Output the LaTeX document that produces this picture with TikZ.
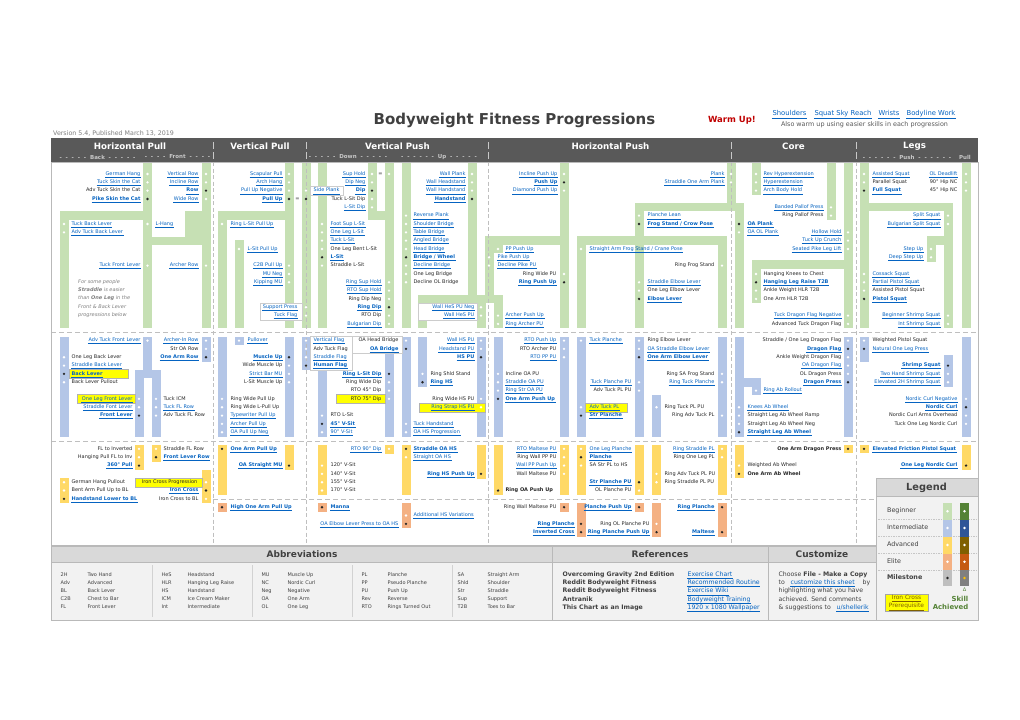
\documentclass[tikz,border=0pt]{standalone}
\usepackage{fontspec}
\setmainfont{DejaVu Sans}
\definecolor{hdr}{HTML}{595959}
\definecolor{ttl}{HTML}{404040}
\definecolor{grn}{HTML}{C6E0B4}
\definecolor{blu}{HTML}{B4C6E7}
\definecolor{yel}{HTML}{FFD966}
\definecolor{org}{HTML}{F4B183}
\definecolor{lnk}{HTML}{0563C1}
\definecolor{txtc}{HTML}{262626}
\definecolor{gry}{HTML}{595959}
\definecolor{notec}{HTML}{7F7F7F}
\definecolor{sepc}{HTML}{BFBFBF}
\definecolor{subc}{HTML}{C8C8C8}
\definecolor{bar}{HTML}{D9D9D9}
\definecolor{pnl}{HTML}{F2F2F2}
\definecolor{hly}{HTML}{FFFF00}
\definecolor{dotk}{HTML}{262626}
\definecolor{warm}{HTML}{C00000}
\definecolor{dkgrn}{HTML}{548235}
\definecolor{dkblu}{HTML}{2F5597}
\definecolor{dkyel}{HTML}{7F6000}
\definecolor{dkorg}{HTML}{C55A11}
\definecolor{mgry}{HTML}{BFBFBF}
\definecolor{dgry}{HTML}{808080}
\definecolor{gold}{HTML}{FFC000}
\newcounter{itm}
\def\ir#1#2#3#4{\stepcounter{itm}\node[#3, anchor=east] (i\arabic{itm}) at (#2,{174+8.33*#1}) {#4};}
\def\il#1#2#3#4{\stepcounter{itm}\node[#3, anchor=west] (i\arabic{itm}) at (#2,{174+8.33*#1}) {#4};}
\def\dw#1#2{\fill[white] (#2,{174+8.33*#1}) circle (1.3);}
\def\dk#1#2{\fill[dotk] (#2,{174+8.33*#1}) circle (1.3);}
\def\lane#1#2#3#4{\fill[#1] (#2,#3) rectangle ({#2+8.5},#4);}

\begin{document}
\begin{tikzpicture}[x=1pt,y=-1pt,
  itx/.style={font=\fontsize{5}{6}\selectfont, text=txtc, inner sep=0.4pt, text height=3.7pt, text depth=1.1pt},
  lk/.style={itx, text=lnk, append after command={(\tikzlastnode.south west) edge[draw=lnk, line width=0.3pt] (\tikzlastnode.south east)}},
  bk/.style={lk, font=\fontsize{5}{6}\selectfont\bfseries},
  pb/.style={itx, font=\fontsize{5}{6}\selectfont\bfseries},
  toplk/.style={lk, font=\fontsize{6.8}{8}\selectfont, text height=5pt, text depth=1.5pt},
  sec/.style={font=\fontsize{8.7}{10}\selectfont\bfseries, text=white},
  sub/.style={font=\fontsize{5.5}{6}\selectfont\bfseries, text=subc},
  hlbox/.style={fill=hly, draw=gray!60, line width=0.4pt},
  grpbox/.style={fill=white, draw=gray!40, line width=0.4pt},
  vsep/.style={draw=sepc, line width=0.8pt, dash pattern=on 4pt off 2.5pt},
  hsepl/.style={draw=sepc, line width=0.8pt, dash pattern=on 5pt off 3pt},
  abr/.style={font=\fontsize{5}{6}\selectfont, text=ttl, inner sep=0.4pt, text height=3.7pt, text depth=1.1pt, anchor=west},
  cus/.style={abr, font=\fontsize{6.2}{7}\selectfont, text height=4.5pt, text depth=1.3pt},
  refb/.style={cus, font=\fontsize{6.2}{7}\selectfont\bfseries},
  reflk/.style={lk, font=\fontsize{6.2}{7}\selectfont, text height=4.5pt, text depth=1.3pt, anchor=west},
  lgl/.style={abr, font=\fontsize{6.4}{7}\selectfont, text height=4.6pt, text depth=1.3pt},
  bhead/.style={font=\fontsize{9}{10}\selectfont\bfseries, text=ttl}]
\useasboundingbox (0,0) rectangle (1020,720);
\fill[white] (0,0) rectangle (1020,720);

%%%%% HEADER %%%%%
\node[font=\fontsize{15}{17}\selectfont\bfseries, text=ttl] (title) at (514.5,120) {Bodyweight Fitness Progressions};
\node[font=\fontsize{8.5}{10}\selectfont\bfseries, text=warm] (warm) at (732,120) {Warm Up!};
\node[toplk] (wu1) at (789.5,114) {Shoulders};
\node[toplk] (wu2) at (843,114) {Squat Sky Reach};
\node[toplk] (wu3) at (889,114) {Wrists};
\node[toplk] (wu4) at (931,114) {Bodyline Work};
\node[font=\fontsize{6.4}{7}\selectfont, text=gry] (also) at (864.5,124.5) {Also warm up using easier skills in each progression};
\node[font=\fontsize{6.3}{7}\selectfont, text=notec, anchor=west, inner sep=0pt] (ver) at (53,133) {Version 5.4, Published March 13, 2019};

\fill[hdr] (51,138) rectangle (978,162);
\node[sec] (s1) at (130,146.5) {Horizontal Pull};
\node[sec] (s2) at (260,146.5) {Vertical Pull};
\node[sec] (s3) at (397.5,146.5) {Vertical Push};
\node[sec] (s4) at (610.5,146.5) {Horizontal Push};
\node[sec] (s5) at (793.5,146.5) {Core};
\node[sec] (s6) at (914.5,146.5) {Legs};
\node[sub] (b1) at (97.5,157) {-~~-~~-~~-~~-~~Back~~-~~-~~-~~-~~-};
\node[sub] (b2) at (177.5,157) {-~~-~~-~~-~~Front~~-~~-~~-~~-};
\node[sub] (b3) at (348,157) {-~~-~~-~~-~~-~~Down~~-~~-~~-~~-~~-};
\node[sub] (b4) at (439,157) {-~~-~~-~~-~~-~~-~~Up~~-~~-~~-~~-~~-};
\node[sub] (b5) at (907,157) {-~~-~~-~~-~~-~~-~~Push~~-~~-~~-~~-~~-~~-};
\node[sub] (b6) at (965,157) {Pull};
\foreach \x in {213,306,488,731,856} {
  \draw[subc, line width=0.8pt] (\x,142) -- (\x,149);
  \draw[subc, line width=0.8pt] (\x,152) -- (\x,159);
}

%%%%% LANES: green %%%%%
\lane{grn}{143}{162}{328}
\lane{grn}{202}{162}{328}
\lane{grn}{60}{211}{328}
\fill[grn] (60,211) rectangle (151.5,219.5);
\fill[grn] (185,211) rectangle (210.5,245);
\fill[grn] (152,236.5) rectangle (210.5,245);
\lane{grn}{285}{162}{328}
\fill[grn] (218,211) rectangle (293.5,219.5);
\lane{grn}{218}{211}{328}
\lane{grn}{235}{240}{328}
\lane{grn}{302}{162}{328}
\lane{grn}{318}{162}{328}
\lane{grn}{368}{162}{219.5}
\fill[grn] (368,211) rectangle (393.5,219.5);
\lane{grn}{385}{162}{328}
\lane{grn}{402}{162}{328}
\lane{grn}{468}{162}{303}
\fill[grn] (418,295) rectangle (502.5,303);
\lane{grn}{477}{295}{328}
\lane{grn}{418}{295}{328}
\lane{grn}{560}{162}{328}
\fill[grn] (485,236) rectangle (568.5,244.5);
\lane{grn}{485}{236}{303}
\lane{grn}{494}{236}{253}
\lane{grn}{494}{295}{328}
\lane{grn}{727}{162}{211}
\fill[grn] (635,203) rectangle (743.5,211);
\lane{grn}{635}{203}{328}
\fill[grn] (577,236) rectangle (726.5,244.5);
\lane{grn}{577}{236}{328}
\lane{grn}{718}{236}{328}
\lane{grn}{735}{203}{328}
\lane{grn}{752}{162}{195}
\lane{grn}{752}{260}{303}
\fill[grn] (752,260) rectangle (852.5,268.5);
\lane{grn}{827}{162}{220}
\lane{grn}{844}{162}{328}
\lane{grn}{860}{162}{328}
\fill[grn] (860,203) rectangle (952.5,211);
\lane{grn}{944}{203}{328}
\fill[grn] (927,236) rectangle (952.5,244.5);
\lane{grn}{927}{236}{262}
\lane{grn}{962}{162}{328}

%%%%% LANES: blue %%%%%
\lane{blu}{143}{336.5}{378}
\fill[blu] (135,370) rectangle (160.5,378);
\lane{blu}{135}{370}{436.5}
\lane{blu}{152}{370}{436.5}
\lane{blu}{202}{336.5}{362}
\lane{blu}{60}{336.5}{436.5}
\lane{blu}{285}{336.5}{436.5}
\lane{blu}{218}{336.5}{436.5}
\lane{blu}{235}{336.5}{345}
\lane{blu}{302}{336.5}{370}
\lane{blu}{318}{336.5}{436.5}
\lane{blu}{385}{336.5}{436.5}
\lane{blu}{402}{336.5}{436.5}
\lane{blu}{418}{336.5}{387}
\lane{blu}{477}{336.5}{436.5}
\lane{blu}{560}{336.5}{436.5}
\lane{blu}{494}{336.5}{436.5}
\lane{blu}{577}{336.5}{436.5}
\lane{blu}{635}{336.5}{436.5}
\lane{blu}{652}{395}{436.5}
\lane{blu}{718}{336.5}{436.5}
\lane{blu}{735}{336.5}{436.5}
\fill[blu] (735,378) rectangle (760.5,386.5);
\lane{blu}{752}{378}{395}
\lane{blu}{844}{336.5}{436.5}
\lane{blu}{860}{336.5}{362}
\lane{blu}{944}{355}{387}
\lane{blu}{962}{336.5}{436.5}

%%%%% LANES: yellow %%%%%
\lane{yel}{135}{444.5}{470}
\lane{yel}{152}{444.5}{462}
\lane{yel}{60}{478}{503}
\lane{yel}{202}{470}{503}
\lane{yel}{218}{444.5}{495}
\lane{yel}{285}{444.5}{470}
\lane{yel}{318}{444.5}{495}
\lane{yel}{385}{444.5}{454}
\lane{yel}{402}{444.5}{495}
\lane{yel}{477}{444.5}{479}
\lane{yel}{560}{444.5}{495}
\lane{yel}{494}{444.5}{495}
\lane{yel}{577}{444.5}{495}
\lane{yel}{635}{444.5}{495}
\lane{yel}{652}{444.5}{495}
\lane{yel}{718}{444.5}{495}
\lane{yel}{735}{444.5}{478}
\lane{yel}{844}{444.5}{453}
\lane{yel}{860}{444.5}{453}
\lane{yel}{962}{444.5}{470}

%%%%% LANES: orange %%%%%
\lane{org}{218}{503}{512}
\lane{org}{318}{503}{512}
\lane{org}{402}{503}{528}
\lane{org}{560}{503}{512}
\lane{org}{577}{503}{537}
\lane{org}{635}{503}{512}
\lane{org}{652}{503}{537}
\lane{org}{718}{503}{537}

%%%%% SEPARATORS %%%%%
\foreach \x in {213,306,488,731,856}
  \draw[vsep] (\x,162) -- (\x,545);
\draw[hsepl] (51,332.5) -- (978,332.5);
\draw[hsepl] (51,441.5) -- (978,441.5);
\draw[hsepl] (213,499.5) -- (876,499.5);

%%%%% BOXES %%%%%
\draw[hlbox] (69,369.5) rectangle (128,378.5);
\draw[hlbox] (77,394.5) rectangle (135,403.5);
\draw[hlbox] (336,394.5) rectangle (385,403.5);
\draw[hlbox] (419,402.8) rectangle (485,411.8);
\draw[hlbox] (585,402.8) rectangle (627,411.8);
\draw[hlbox] (135,477.8) rectangle (202,486.8);
\draw[grpbox] (310,186) rectangle (343,195.5);
\draw[grpbox] (260,303) rectangle (302,320);
\draw[grpbox] (310,336) rectangle (352,370);
\draw[grpbox] (352,336) rectangle (402,353);
\draw[grpbox] (418,303) rectangle (477,320);

%%%%% HORIZONTAL PULL %%%%%
\ir{0}{141}{lk}{German Hang} \dw{0}{147.5}
\ir{1}{141}{lk}{Tuck Skin the Cat} \dw{1}{147.5}
\ir{2}{141}{itx}{Adv Tuck Skin the Cat} \dw{2}{147.5}
\ir{3}{141}{bk}{Pike Skin the Cat} \dk{3}{147.5}
\ir{0}{199}{lk}{Vertical Row} \dw{0}{206}
\ir{1}{199}{lk}{Incline Row} \dw{1}{206}
\ir{2}{199}{bk}{Row} \dk{2}{206}
\ir{3}{199}{lk}{Wide Row} \dw{3}{206}
\il{6}{71}{lk}{Tuck Back Lever} \dw{6}{64}
\il{7}{71}{lk}{Adv Tuck Back Lever} \dw{7}{64}
\il{6}{155}{lk}{L-Hang} \dw{6}{147.5}
\ir{11}{141}{lk}{Tuck Front Lever} \dw{11}{147.5}
\ir{11}{199}{lk}{Archer Row} \dw{11}{206}
\node[font=\fontsize{5}{8.33}\selectfont\itshape, text=notec, align=left, anchor=north west, inner sep=0pt] (note) at (78,279.3)
  {For some people\\\textbf{Straddle} is easier\\than \textbf{One Leg} in the\\Front \& Back Lever\\progressions below};
\ir{20}{141}{lk}{Adv Tuck Front Lever} \dw{20}{147.5}
\ir{20}{199}{lk}{Archer-In Row} \dw{20}{206}
\ir{21}{199}{itx}{Str OA Row} \dw{21}{206}
\ir{22}{199}{bk}{One Arm Row} \dk{22}{206}
\il{22}{71}{itx}{One Leg Back Lever} \dw{22}{64}
\il{23}{71}{lk}{Straddle Back Lever} \dw{23}{64}
\il{24}{71}{bk}{Back Lever} \dk{24}{64}
\il{25}{71}{itx}{Back Lever Pullout} \dw{25}{64}
\ir{27}{133}{lk}{One Leg Front Lever} \dw{27}{139}
\ir{28}{133}{lk}{Straddle Font Lever} \dw{28}{139}
\ir{29}{133}{bk}{Front Lever} \dk{29}{139}
\il{27}{163}{itx}{Tuck ICM} \dw{27}{156}
\il{28}{163}{lk}{Tuck FL Row} \dw{28}{156}
\il{29}{163}{itx}{Adv Tuck FL Row} \dw{29}{156}
\ir{33}{133}{itx}{FL to Inverted} \dw{33}{139}
\ir{34}{133}{itx}{Hanging Pull FL to Inv} \dw{34}{139}
\ir{35}{133}{bk}{360° Pull} \dk{35}{139}
\il{33}{163}{itx}{Straddle FL Row} \dw{33}{156}
\il{34}{163}{bk}{Front Lever Row} \dk{34}{156}
\il{37}{71}{itx}{German Hang Pullout} \dw{37}{64}
\il{38}{71}{itx}{Bent Arm Pull Up to BL} \dw{38}{64}
\il{39}{71}{bk}{Handstand Lower to BL} \dk{39}{64}
\ir{37}{198}{itx}{Iron Cross Progression} \dw{37}{206}
\ir{38}{199}{bk}{Iron Cross} \dk{38}{206}
\ir{39}{199}{itx}{Iron Cross to BL} \dw{39}{206}

%%%%% VERTICAL PULL %%%%%
\ir{0}{283}{lk}{Scapular Pull} \dw{0}{289}
\ir{1}{283}{lk}{Arch Hang} \dw{1}{289}
\ir{2}{283}{lk}{Pull Up Negative} \dw{2}{289}
\ir{3}{283}{bk}{Pull Up} \dk{3}{289}
\node[itx] (eq1) at (297.5,199) {=};
\dk{3}{306} \dw{2}{306}
\il{2}{313}{lk}{Side Plank}
\il{6}{230}{lk}{Ring L-Sit Pull Up} \dw{6}{222}
\il{9}{247}{lk}{L-Sit Pull Up} \dw{9}{239}
\ir{11}{283}{lk}{C2B Pull Up} \dw{11}{289}
\ir{12}{283}{lk}{MU Neg} \dw{12}{289}
\ir{13}{283}{lk}{Kipping MU} \dw{13}{289}
\ir{16}{298}{lk}{Support Press} \dw{16}{306}
\ir{17}{298}{lk}{Tuck Flag} \dw{17}{306}
\il{20}{247}{lk}{Pullover} \dw{20}{239}
\ir{22}{283}{bk}{Muscle Up} \dk{22}{289}
\ir{23}{283}{itx}{Wide Muscle Up} \dw{23}{289}
\ir{24}{283}{lk}{Strict Bar MU} \dw{24}{289}
\ir{25}{283}{itx}{L-Sit Muscle Up} \dw{25}{289}
\il{27}{230}{itx}{Ring Wide Pull Up} \dw{27}{222}
\il{28}{230}{itx}{Ring Wide L-Pull Up} \dw{28}{222}
\il{29}{230}{lk}{Typewriter Pull Up} \dw{29}{222}
\il{30}{230}{lk}{Archer Pull Up} \dw{30}{222}
\il{31}{230}{lk}{OA Pull Up Neg} \dw{31}{222}
\il{20}{313}{lk}{Vertical Flag} \dw{20}{306}
\il{21}{313}{itx}{Adv Tuck Flag} \dw{21}{306}
\il{22}{313}{lk}{Straddle Flag} \dw{22}{306}
\il{23}{313}{bk}{Human Flag} \dk{23}{306}
\il{33}{230}{bk}{One Arm Pull Up} \dk{33}{222}
\ir{35}{283}{bk}{OA Straight MU} \dk{35}{289}
\il{40}{230}{bk}{High One Arm Pull Up} \dk{40}{222}

%%%%% VERTICAL PUSH %%%%%
\ir{0}{366}{lk}{Sup Hold} \dw{0}{372}
\node[itx] (eq2) at (380.5,174) {=}; \dw{0}{389}
\ir{1}{366}{lk}{Dip Neg} \dw{1}{372}
\ir{2}{366}{bk}{Dip} \dk{2}{372}
\ir{3}{366}{itx}{Tuck L-Sit Dip} \dw{3}{372}
\ir{4}{366}{lk}{L-Sit Dip} \dw{4}{372}
\il{6}{330}{lk}{Foot Sup L-Sit} \dw{6}{322}
\il{7}{330}{lk}{One Leg L-Sit} \dw{7}{322}
\il{8}{330}{lk}{Tuck L-Sit} \dw{8}{322}
\il{9}{330}{itx}{One Leg Bent L-Sit} \dw{9}{322}
\il{10}{330}{bk}{L-Sit} \dk{10}{322}
\il{11}{330}{itx}{Straddle L-Sit} \dw{11}{322}
\ir{13}{382}{lk}{Ring Sup Hold} \dw{13}{389}
\ir{14}{382}{lk}{RTO Sup Hold} \dw{14}{389}
\ir{15}{382}{itx}{Ring Dip Neg} \dw{15}{389}
\ir{16}{382}{bk}{Ring Dip} \dk{16}{389}
\ir{17}{382}{itx}{RTO Dip} \dw{17}{389}
\ir{18}{382}{lk}{Bulgarian Dip} \dw{18}{389}
\il{5}{413}{lk}{Reverse Plank} \dw{5}{406}
\il{6}{413}{lk}{Shoulder Bridge} \dw{6}{406}
\il{7}{413}{lk}{Table Bridge} \dw{7}{406}
\il{8}{413}{lk}{Angled Bridge} \dw{8}{406}
\il{9}{413}{lk}{Head Bridge} \dw{9}{406}
\il{10}{413}{bk}{Bridge / Wheel} \dk{10}{406}
\il{11}{413}{lk}{Decline Bridge} \dw{11}{406}
\il{12}{413}{itx}{One Leg Bridge} \dw{12}{406}
\il{13}{413}{itx}{Decline OL Bridge} \dw{13}{406}
\ir{0}{466}{lk}{Wall Plank} \dw{0}{472}
\ir{1}{466}{lk}{Wall Headstand} \dw{1}{472}
\ir{2}{466}{lk}{Wall Handstand} \dw{2}{472}
\ir{3}{466}{bk}{Handstand} \dk{3}{472}
\ir{16}{475}{lk}{Wall HeS PU Neg} \dw{16}{481}
\ir{17}{475}{lk}{Wall HeS PU} \dw{17}{481}
\ir{20}{399}{itx}{OA Head Bridge} \dw{20}{406}
\ir{21}{399}{bk}{OA Bridge} \dk{21}{406}
\ir{20}{475}{lk}{Wall HS PU} \dw{20}{481}
\ir{21}{475}{lk}{Headstand PU} \dw{21}{481}
\ir{22}{475}{bk}{HS PU} \dk{22}{481}
\ir{24}{382}{bk}{Ring L-Sit Dip} \dk{24}{389}
\ir{25}{382}{itx}{Ring Wide Dip} \dw{25}{389}
\ir{26}{382}{itx}{RTO 45° Dip} \dw{26}{389}
\ir{27}{382}{itx}{RTO 75° Dip} \dw{27}{389}
\il{24}{430}{itx}{Ring Shld Stand} \dw{24}{422.5}
\il{25}{430}{bk}{Ring HS} \dk{25}{422.5}
\ir{27}{475}{itx}{Ring Wide HS PU} \dw{27}{481}
\ir{28}{475}{lk}{Ring Strap HS PU} \dw{28}{481}
\il{30}{413}{lk}{Tuck Handstand} \dw{30}{406}
\il{31}{413}{lk}{OA HS Progression} \dw{31}{406}
\il{29}{330}{itx}{RTO L-Sit} \dw{29}{322}
\il{30}{330}{bk}{45° V-Sit} \dk{30}{322}
\il{31}{330}{lk}{90° V-Sit} \dw{31}{322}
\ir{33}{382}{lk}{RTO 90° Dip} \dw{33}{389}
\il{33}{413}{bk}{Straddle OA HS} \dk{33}{406}
\il{34}{413}{lk}{Straight OA HS} \dw{34}{406}
\ir{36}{475}{bk}{Ring HS Push Up} \dk{36}{481}
\il{35}{330}{itx}{120° V-Sit} \dw{35}{322}
\il{36}{330}{itx}{140° V-Sit} \dw{36}{322}
\il{37}{330}{itx}{155° V-Sit} \dw{37}{322}
\il{38}{330}{itx}{170° V-Sit} \dw{38}{322}
\il{40}{330}{bk}{Manna} \dk{40}{322}
\il{41}{413}{lk}{Additional HS Variations} \dw{41}{406}
\ir{42}{399}{lk}{OA Elbow Lever Press to OA HS} \dk{42}{406}

%%%%% HORIZONTAL PUSH %%%%%
\ir{0}{558}{lk}{Incline Push Up} \dw{0}{564}
\ir{1}{558}{bk}{Push Up} \dk{1}{564}
\ir{2}{558}{lk}{Diamond Push Up} \dw{2}{564}
\ir{0}{725}{lk}{Plank} \dw{0}{731}
\ir{1}{725}{lk}{Straddle One Arm Plank} \dw{1}{731}
\il{5}{647}{lk}{Planche Lean} \dw{5}{639}
\il{6}{647}{bk}{Frog Stand / Crow Pose} \dk{6}{639}
\il{9}{505}{lk}{PP Push Up} \dw{9}{498}
\il{9}{589}{lk}{Straight Arm Frog Stand / Crane Pose} \dw{9}{581}
\il{10}{497}{lk}{Pike Push Up} \dw{10}{489}
\il{11}{497}{lk}{Decline Pike PU} \dw{11}{489}
\ir{11}{715}{itx}{Ring Frog Stand} \dw{11}{722}
\ir{12}{557}{itx}{Ring Wide PU} \dw{12}{564}
\ir{13}{557}{bk}{Ring Push Up} \dk{13}{564}
\il{13}{647}{lk}{Straddle Elbow Lever} \dw{13}{639}
\il{14}{647}{itx}{One Leg Elbow Lever} \dw{14}{639}
\il{15}{647}{bk}{Elbow Lever} \dk{15}{639}
\il{17}{505}{lk}{Archer Push Up} \dw{17}{498}
\il{18}{505}{lk}{Ring Archer PU} \dw{18}{498}
\ir{20}{557}{lk}{RTO Push Up} \dw{20}{564}
\ir{21}{557}{itx}{RTO Archer PU} \dw{21}{564}
\ir{22}{557}{lk}{RTO PP PU} \dw{22}{564}
\il{20}{589}{lk}{Tuck Planche} \dw{20}{581}
\il{20}{647}{itx}{Ring Elbow Lever} \dw{20}{639}
\il{21}{647}{lk}{OA Straddle Elbow Lever} \dw{21}{639}
\il{22}{647}{bk}{One Arm Elbow Lever} \dk{22}{639}
\il{24}{505}{itx}{Incline OA PU} \dw{24}{498}
\il{25}{505}{lk}{Straddle OA PU} \dw{25}{498}
\il{26}{505}{lk}{Ring Str OA PU} \dw{26}{498}
\il{27}{505}{bk}{One Arm Push Up} \dk{27}{498}
\ir{25}{632}{lk}{Tuck Planche PU} \dw{25}{639}
\ir{26}{632}{itx}{Adv Tuck PL PU} \dw{26}{639}
\ir{24}{715}{itx}{Ring SA Frog Stand} \dw{24}{722}
\ir{25}{715}{lk}{Ring Tuck Planche} \dw{25}{722}
\il{28}{589}{lk}{Adv Tuck PL} \dw{28}{581}
\il{29}{589}{bk}{Str Planche} \dk{29}{581}
\il{28}{664}{itx}{Ring Tuck PL PU} \dw{28}{656.5}
\ir{29}{715}{itx}{Ring Adv Tuck PL} \dw{29}{722}
\ir{33}{557}{lk}{RTO Maltese PU} \dw{33}{564}
\ir{34}{557}{itx}{Ring Wall PP PU} \dw{34}{564}
\ir{35}{557}{lk}{Wall PP Push Up} \dw{35}{564}
\ir{36}{557}{itx}{Wall Maltese PU} \dw{36}{564}
\il{38}{505}{pb}{Ring OA Push Up} \dk{38}{498}
\il{33}{589}{lk}{One Leg Planche} \dw{33}{581}
\il{34}{589}{bk}{Planche} \dk{34}{581}
\il{35}{589}{itx}{SA Str PL to HS} \dw{35}{581}
\ir{37}{632}{bk}{Str Planche PU} \dk{37}{639}
\ir{38}{632}{itx}{OL Planche PU} \dw{38}{639}
\ir{33}{715}{lk}{Ring Straddle PL} \dw{33}{722}
\ir{34}{715}{itx}{Ring One Leg PL} \dw{34}{722}
\il{36}{664}{itx}{Ring Adv Tuck PL PU} \dw{36}{656.5}
\il{37}{664}{itx}{Ring Straddle PL PU} \dw{37}{656.5}
\ir{40}{557}{itx}{Ring Wall Maltese PU} \dk{40}{564}
\ir{40}{632}{bk}{Planche Push Up} \dk{40}{639}
\ir{42}{575}{bk}{Ring Planche} \dk{42}{581}
\ir{43}{575}{bk}{Inverted Cross} \dk{43}{581}
\ir{42}{650}{itx}{Ring OL Planche PU} \dw{42}{656.5}
\ir{43}{650}{bk}{Ring Planche Push Up} \dk{43}{656.5}
\ir{40}{715}{bk}{Ring Planche} \dk{40}{722}
\ir{43}{715}{bk}{Maltese} \dk{43}{722}

%%%%% CORE %%%%%
\il{0}{763}{lk}{Rev Hyperextension} \dw{0}{756}
\il{1}{763}{lk}{Hyperextension} \dw{1}{756}
\il{2}{763}{lk}{Arch Body Hold} \dw{2}{756}
\ir{4}{824}{lk}{Banded Pallof Press} \dw{4}{831}
\ir{5}{824}{itx}{Ring Pallof Press} \dw{5}{831}
\il{6}{747}{bk}{OA Plank} \dk{6}{739}
\il{7}{747}{lk}{OA OL Plank} \dw{7}{739}
\ir{7}{842}{lk}{Hollow Hold} \dw{7}{848}
\ir{8}{842}{lk}{Tuck Up Crunch} \dw{8}{848}
\ir{9}{842}{lk}{Seated Pike Leg Lift} \dw{9}{848}
\il{12}{763}{itx}{Hanging Knees to Chest} \dw{12}{756}
\il{13}{763}{bk}{Hanging Leg Raise T2B} \dk{13}{756}
\il{14}{763}{itx}{Ankle Weight HLR T2B} \dw{14}{756}
\il{15}{763}{itx}{One Arm HLR T2B} \dw{15}{756}
\ir{17}{842}{lk}{Tuck Dragon Flag Negative} \dw{17}{848}
\ir{18}{842}{itx}{Advanced Tuck Dragon Flag} \dw{18}{848}
\ir{20}{842}{itx}{Straddle / One Leg Dragon Flag} \dw{20}{848}
\ir{21}{842}{bk}{Dragon Flag} \dk{21}{848}
\ir{22}{842}{itx}{Ankle Weight Dragon Flag} \dw{22}{848}
\ir{23}{842}{lk}{OA Dragon Flag} \dw{23}{848}
\ir{24}{842}{itx}{OL Dragon Press} \dw{24}{848}
\ir{25}{842}{bk}{Dragon Press} \dk{25}{848}
\il{26}{763}{lk}{Ring Ab Rollout} \dw{26}{756}
\il{28}{747}{lk}{Knees Ab Wheel} \dw{28}{739}
\il{29}{747}{itx}{Straight Leg Ab Wheel Ramp} \dw{29}{739}
\il{30}{747}{itx}{Straight Leg Ab Wheel Neg} \dw{30}{739}
\il{31}{747}{bk}{Straight Leg Ab Wheel} \dk{31}{739}
\ir{33}{842}{pb}{One Arm Dragon Press} \dk{33}{848}
\il{35}{747}{itx}{Weighted Ab Wheel} \dw{35}{739}
\il{36}{747}{pb}{One Arm Ab Wheel} \dk{36}{739}

%%%%% LEGS %%%%%
\il{0}{872}{lk}{Assisted Squat} \dw{0}{864}
\il{1}{872}{itx}{Parallel Squat} \dw{1}{864}
\il{2}{872}{bk}{Full Squat} \dk{2}{864}
\ir{0}{958}{lk}{OL Deadlift} \dw{0}{966}
\ir{1}{958}{itx}{90° Hip NC} \dw{1}{966}
\ir{2}{958}{itx}{45° Hip NC} \dw{2}{966}
\ir{5}{941}{lk}{Split Squat} \dw{5}{948}
\ir{6}{941}{lk}{Bulgarian Split Squat} \dw{6}{948}
\ir{9}{924}{lk}{Step Up} \dw{9}{931}
\ir{10}{924}{lk}{Deep Step Up} \dw{10}{931}
\il{12}{872}{lk}{Cossack Squat} \dw{12}{864}
\il{13}{872}{lk}{Partial Pistol Squat} \dw{13}{864}
\il{14}{872}{itx}{Assisted Pistol Squat} \dw{14}{864}
\il{15}{872}{bk}{Pistol Squat} \dk{15}{864}
\ir{17}{941}{lk}{Beginner Shrimp Squat} \dw{17}{948}
\ir{18}{941}{lk}{Int Shrimp Squat} \dw{18}{948}
\il{20}{872}{itx}{Weighted Pistol Squat} \dw{20}{864}
\il{21}{872}{lk}{Natural One Leg Press} \dk{21}{864}
\ir{23}{941}{bk}{Shrimp Squat} \dk{23}{948}
\ir{24}{941}{lk}{Two Hand Shrimp Squat} \dw{24}{948}
\ir{25}{941}{lk}{Elevated 2H Shrimp Squat} \dw{25}{948}
\ir{27}{958}{lk}{Nordic Curl Negative} \dw{27}{966}
\ir{28}{958}{bk}{Nordic Curl} \dk{28}{966}
\ir{29}{958}{itx}{Nordic Curl Arms Overhead} \dw{29}{966}
\ir{30}{958}{itx}{Tuck One Leg Nordic Curl} \dw{30}{966}
\il{33}{872}{bk}{Elevated Friction Pistol Squat} \dk{33}{864}
\ir{35}{958}{bk}{One Leg Nordic Curl} \dk{35}{966}

\draw[gray!55, line width=0.6pt] (51,162) rectangle (978,545);

%%%%% BOTTOM PANEL %%%%%
\fill[bar] (51,546) rectangle (876,562);
\fill[pnl] (51,562) rectangle (876,620);
\draw[gray!55, line width=0.6pt] (51,546) rectangle (876,620);
\draw[gray!55, line width=0.6pt] (51,562) -- (876,562);
\draw[gray!55, line width=0.6pt] (552,546) -- (552,620);
\draw[gray!55, line width=0.6pt] (768,546) -- (768,620);
\foreach \x in {152,252,352,452}
  \draw[gray!35, line width=0.5pt] (\x,565) -- (\x,617);
\node[bhead] (abh) at (302,554) {Abbreviations};
\node[bhead] (rfh) at (660,554) {References};
\node[bhead] (cuh) at (822,554) {Customize};
\foreach \a/\m [count=\k] in {2H/Two Hand, Adv/Advanced, BL/Back Lever, C2B/Chest to Bar, FL/Front Lever} {
  \node[abr] (ab1\k) at (60,{567+8*\k}) {\a};
  \node[abr] (am1\k) at (87,{567+8*\k}) {\m};
}
\foreach \a/\m [count=\k] in {HeS/Headstand, HLR/Hanging Leg Raise, HS/Handstand, ICM/Ice Cream Maker, Int/Intermediate} {
  \node[abr] (ab2\k) at (161,{567+8*\k}) {\a};
  \node[abr] (am2\k) at (187,{567+8*\k}) {\m};
}
\foreach \a/\m [count=\k] in {MU/Muscle Up, NC/Nordic Curl, Neg/Negative, OA/One Arm, OL/One Leg} {
  \node[abr] (ab3\k) at (261,{567+8*\k}) {\a};
  \node[abr] (am3\k) at (287,{567+8*\k}) {\m};
}
\foreach \a/\m [count=\k] in {PL/Planche, PP/Pseudo Planche, PU/Push Up, Rev/Reverse, RTO/Rings Turned Out} {
  \node[abr] (ab4\k) at (361,{567+8*\k}) {\a};
  \node[abr] (am4\k) at (387,{567+8*\k}) {\m};
}
\foreach \a/\m [count=\k] in {SA/Straight Arm, Shld/Shoulder, Str/Straddle, Sup/Support, T2B/Toes to Bar} {
  \node[abr] (ab5\k) at (457,{567+8*\k}) {\a};
  \node[abr] (am5\k) at (487,{567+8*\k}) {\m};
}
\begin{scope}
\clip (552,562) rectangle (767.5,620);
\foreach \s [count=\k] in {Overcoming Gravity 2nd Edition, Reddit Bodyweight Fitness, Reddit Bodyweight Fitness, Antranik, This Chart as an Image}
  \node[refb] (rb\k) at (562,{566.6+8.2*\k}) {\s};
\foreach \s [count=\k] in {Exercise Chart, Recommended Routine, Exercise Wiki, Bodyweight Training, 1920 x 1080 Wallpaper}
  \node[reflk] (rl\k) at (687,{566.6+8.2*\k}) {\s};
\end{scope}
\begin{scope}
\clip (768,562) rectangle (876,620);
\node[cus] (cu1) at (778,574.8) {Choose \textbf{File - Make a Copy}};
\node[cus] (cu2) at (778,583) {to};
\node[reflk] (cu2l) at (790,583) {customize this sheet};
\node[cus] (cu2b) at (862,583) {by};
\node[cus] (cu3) at (778,591.2) {highlighting what you have};
\node[cus] (cu4) at (778,599.4) {achieved. Send comments};
\node[cus] (cu5) at (778,607.6) {\& suggestions to};
\node[reflk] (cu5l) at (836,607.6) {u/shellerik};
\end{scope}

%%%%% LEGEND %%%%%
\fill[pnl] (876,478) rectangle (978,620);
\fill[bar] (876,478) rectangle (978,496);
\draw[gray!55, line width=0.6pt] (876,478) rectangle (978,620);
\draw[gray!55, line width=0.6pt] (876,496) -- (978,496);
\node[font=\fontsize{9.8}{11}\selectfont\bfseries, text=ttl] (lgd) at (926.5,487.5) {Legend};
\foreach \yy in {519.5,536.5,553.5,570}
  \draw[gray!45, line width=0.4pt, dash pattern=on 1.5pt off 1pt] (878,\yy) -- (976,\yy);
\foreach \lab/\ya/\yb/\lc/\dc [count=\k] in {Beginner/503/519.5/grn/dkgrn, Intermediate/519.5/536.5/blu/dkblu, Advanced/536.5/553.5/yel/dkyel, Elite/553.5/570/org/dkorg} {
  \node[lgl] (lg\k) at (886.5,{(\ya+\yb)/2}) {\lab};
  \fill[\lc] (943,\ya) rectangle (952,\yb);
  \fill[\dc] (960,\ya) rectangle (969,\yb);
  \fill[white] (947.5,{(\ya+\yb)/2}) circle (1.3);
  \fill[white] (964.5,{(\ya+\yb)/2}) circle (1.3);
}
\node[lgl, font=\fontsize{6.4}{7}\selectfont\bfseries] (lg5) at (886.5,578) {Milestone};
\fill[mgry] (943,570) rectangle (952,586);
\fill[dgry] (960,570) rectangle (969,586);
\fill[dotk] (947.5,578) circle (1.3);
\fill[gold] (964.5,578) circle (1.3);
\node[font=\fontsize{5}{6}\selectfont, text=dkgrn, inner sep=0pt] (tri) at (964.5,590) {Δ};
\node[font=\fontsize{6.9}{8}\selectfont\bfseries, text=dkgrn, anchor=east, inner sep=0pt] (sk1) at (968.5,598.5) {Skill};
\node[font=\fontsize{6.9}{8}\selectfont\bfseries, text=dkgrn, anchor=east, inner sep=0pt] (sk2) at (968.5,607) {Achieved};
\draw[fill=hly, draw=gray!70, line width=0.5pt] (885,594) rectangle (928,611.5);
\node[font=\fontsize{5.9}{8}\selectfont, text=dkyel, align=center, inner sep=0pt] (icp) at (906.5,602.8) {\underline{Iron Cross}\\\underline{Prerequisite}};
\end{tikzpicture}
\end{document}
